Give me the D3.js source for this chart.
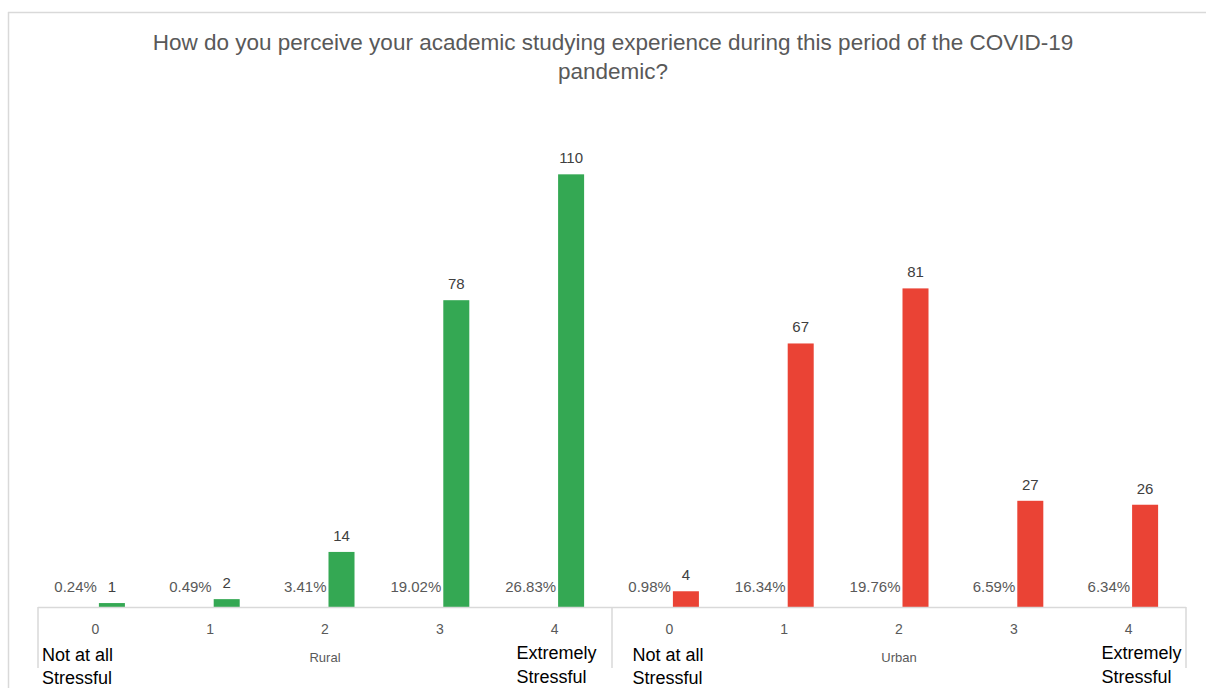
<!DOCTYPE html>
<html>
<head>
<meta charset="utf-8">
<script src="https://cdn.jsdelivr.net/npm/d3@7"></script>
<style>
  html, body { margin: 0; padding: 0; background: #fff; }
  svg { display: block; font-family: "Liberation Sans", Arial, sans-serif; }
</style>
</head>
<body>
<svg id="chart" width="1206" height="688"></svg>
<script>
const titleLines = ["How do you perceive your academic studying experience during this period of the COVID-19", "pandemic?"];
const groups = ["Rural", "Urban"];
const levels = ["0", "1", "2", "3", "4"];
const ruralCounts = [1, 2, 14, 78, 110];
const urbanCounts = [4, 67, 81, 27, 26];
const ruralPct = ["0.24%", "0.49%", "3.41%", "19.02%", "26.83%"];
const urbanPct = ["0.98%", "16.34%", "19.76%", "6.59%", "6.34%"];
const lowLabel = ["Not at all", "Stressful"];
const highLabel = ["Extremely", "Stressful"];
const groupColors = ["#34a853", "#ea4335"];

const counts = [ruralCounts, urbanCounts];
const pcts = [ruralPct, urbanPct];

const svg = d3.select("#chart");
const W = 1206, H = 688;
const axisLeft = 38, axisRight = 1186, baseY = 607;
const lineColor = "#d9d9d9";
const textGray = "#595959";

// outer chart border (cropped)
svg.append("line").attr("x1", 8).attr("x2", W).attr("y1", 12.5).attr("y2", 12.5)
  .attr("stroke", lineColor).attr("stroke-width", 1.5);
svg.append("line").attr("x1", 8.5).attr("x2", 8.5).attr("y1", 12).attr("y2", H)
  .attr("stroke", lineColor).attr("stroke-width", 1.5);

// title
svg.append("g").selectAll("text").data(titleLines).join("text")
  .attr("x", 613).attr("y", (d, i) => 50 + i * 29)
  .attr("text-anchor", "middle")
  .attr("fill", textGray).attr("font-size", 22.5)
  .text(d => d);

// scales
const xGroup = d3.scaleBand().domain(groups).range([axisLeft, axisRight]).padding(0);
const xLevel = d3.scaleBand().domain(levels).range([0, xGroup.bandwidth()]).padding(0);
const xSeries = d3.scaleBand().domain(["pct", "count"]).range([0, xLevel.bandwidth()])
  .paddingInner(0.212).paddingOuter(0.845);
const y = d3.scaleLinear().domain([0, 120]).range([baseY, 135]);

// data table
const rows = [];
groups.forEach((g, gi) => levels.forEach((l, li) => rows.push({
  group: g, gi, level: l, count: counts[gi][li], pct: pcts[gi][li]
})));

const barX = d => xGroup(d.group) + xLevel(d.level) + xSeries("count");

// bars
svg.append("g").selectAll("rect").data(rows).join("rect")
  .attr("x", barX)
  .attr("width", xSeries.bandwidth())
  .attr("y", d => y(d.count))
  .attr("height", d => baseY - y(d.count))
  .attr("fill", d => groupColors[d.gi]);

// count labels
svg.append("g").selectAll("text").data(rows).join("text")
  .attr("x", d => barX(d) + xSeries.bandwidth() / 2)
  .attr("y", d => y(d.count) - 11)
  .attr("text-anchor", "middle")
  .attr("fill", "#404040").attr("font-size", 15)
  .text(d => d.count);

// percentage labels
svg.append("g").selectAll("text").data(rows).join("text")
  .attr("x", d => barX(d) - 2)
  .attr("y", baseY - 15)
  .attr("text-anchor", "end")
  .attr("fill", textGray).attr("font-size", 15)
  .text(d => d.pct);

// axis line
svg.append("line").attr("x1", axisLeft).attr("x2", axisRight).attr("y1", baseY + 0.5).attr("y2", baseY + 0.5)
  .attr("stroke", lineColor).attr("stroke-width", 1.5);

// group separators
const sepX = groups.map(g => xGroup(g)).concat([axisRight]);
svg.append("g").selectAll("line").data(sepX).join("line")
  .attr("x1", d => d).attr("x2", d => d)
  .attr("y1", baseY).attr("y2", 668)
  .attr("stroke", lineColor).attr("stroke-width", 1.5);

// level tick labels
svg.append("g").selectAll("text").data(rows).join("text")
  .attr("x", d => xGroup(d.group) + xLevel(d.level) + xLevel.bandwidth() / 2)
  .attr("y", 634)
  .attr("text-anchor", "middle")
  .attr("fill", textGray).attr("font-size", 14)
  .text(d => d.level);

// group labels
svg.append("g").selectAll("text").data(groups).join("text")
  .attr("x", g => xGroup(g) + xGroup.bandwidth() / 2)
  .attr("y", 662)
  .attr("text-anchor", "middle")
  .attr("fill", textGray).attr("font-size", 13)
  .text(g => g);

// end descriptors
groups.forEach((g, gi) => {
  const c0 = xGroup(g) + xLevel(levels[0]) + xLevel.bandwidth() / 2;
  const c4 = xGroup(g) + xLevel(levels[4]) + xLevel.bandwidth() / 2;
  const lowX = gi === 0 ? xGroup(g) + 4 : c0 - 37;
  svg.append("g").selectAll("text").data(lowLabel).join("text")
    .attr("x", lowX).attr("y", (d, i) => 661 + i * 23)
    .attr("fill", "#000").attr("font-size", 18)
    .text(d => d);
  svg.append("g").selectAll("text").data(highLabel).join("text")
    .attr("x", c4 - 38 + gi * 11).attr("y", (d, i) => 659 + i * 24)
    .attr("fill", "#000").attr("font-size", 18)
    .text(d => d);
});
</script>
</body>
</html>
